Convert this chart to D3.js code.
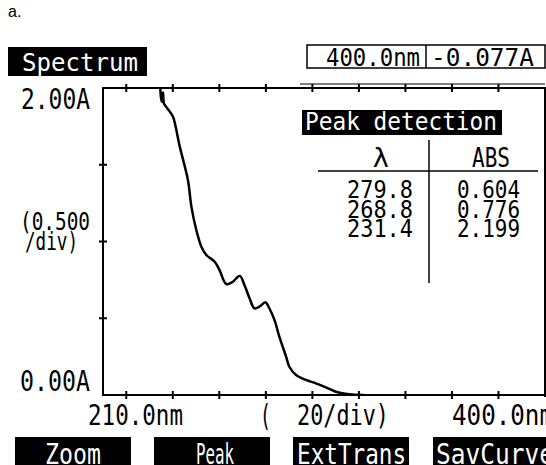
<!DOCTYPE html>
<html>
<head>
<meta charset="utf-8">
<script src="https://cdn.jsdelivr.net/npm/d3@7"></script>
<style>
  body { margin: 0; background: #fff; }
  svg { display: block; }
  text { font-family: "DejaVu Sans Mono", monospace; }
</style>
</head>
<body>
<div id="chart"></div>
<script>
// spectrum (nm, A)
var wavelengths = [234.6, 234.9, 235.3, 235.8, 236.2, 237.0, 238.7, 240.1, 243.0, 246.5, 248.0, 250.1,
                   252.3, 254.4, 258.0, 260.1, 263.0, 265.8, 268.8, 270.8, 273.0, 275.1, 277.2, 279.8,
                   281.5, 283.7, 285.8, 288.7, 290.1, 293.0, 297.2, 301.5, 305.8, 310.1, 312.9, 317.2, 322.0];
var absorbance = [2.02, 1.94, 1.91, 1.97, 1.90, 1.88, 1.846, 1.813, 1.618, 1.401, 1.227, 1.075,
                  0.966, 0.912, 0.868, 0.814, 0.723, 0.738, 0.776, 0.717, 0.630, 0.565, 0.575, 0.604,
                  0.565, 0.489, 0.380, 0.250, 0.184, 0.130, 0.098, 0.076, 0.050, 0.021, 0.011, 0.003, 0.0];

var peak_lambda = ["279.8", "268.8", "231.4"];
var peak_abs = ["0.604", "0.776", "2.199"];
var x_ticks = [220, 240, 260, 280, 300, 320, 340, 360, 380];
var y_ticks = [0.5, 1.0, 1.5];
var buttons = ["Zoom", "Peak", "ExtTrans", "SavCurve"];

var width = 546, height = 465;

var svg = d3.select("#chart").append("svg")
    .attr("width", width)
    .attr("height", height);

var x = d3.scaleLinear().domain([210, 400]).range([103, 545]);
var y = d3.scaleLinear().domain([0, 2]).range([395, 88]);

// text squeezed into a given width, like the instrument font
function label(str, x0, base, w, size, fill) {
    return svg.append("text")
	.attr("x", x0)
	.attr("y", base)
	.attr("textLength", w)
	.attr("lengthAdjust", "spacingAndGlyphs")
	.style("font-size", size + "px")
	.style("fill", fill || "black")
	.text(str);
}

svg.append("text")
    .attr("x", 8).attr("y", 17)
    .style("font-family", "'Liberation Sans', Arial, sans-serif")
    .style("font-size", "16px")
    .text("a.");

// header boxes
svg.append("rect").attr("x", 8).attr("y", 47).attr("width", 139).attr("height", 29).attr("fill", "black");
label("Spectrum", 22, 71, 116, 25, "white");

svg.append("rect").attr("x", 307).attr("y", 45).attr("width", 238).attr("height", 23)
    .attr("fill", "none").attr("stroke", "black").attr("stroke-width", 1.5);
svg.append("line").attr("x1", 426).attr("x2", 426).attr("y1", 45).attr("y2", 68)
    .attr("stroke", "black").attr("stroke-width", 1.5);
label("400.0nm", 326, 66, 94, 25);
label("-0.077A", 431, 66, 103, 25);

// plot frame
var frame = svg.append("g").attr("stroke", "black").attr("fill", "none");
frame.append("line").attr("x1", 103).attr("x2", 545).attr("y1", 88).attr("y2", 88).attr("stroke-width", 2);
frame.append("line").attr("x1", 300).attr("x2", 545).attr("y1", 84).attr("y2", 84).attr("stroke-width", 1);
frame.append("line").attr("x1", 103).attr("x2", 545).attr("y1", 395).attr("y2", 395).attr("stroke-width", 2);
frame.append("line").attr("x1", 103).attr("x2", 103).attr("y1", 87).attr("y2", 396).attr("stroke-width", 2);
frame.append("line").attr("x1", 545).attr("x2", 545).attr("y1", 87).attr("y2", 397).attr("stroke-width", 2);

frame.selectAll(".xt").data(x_ticks).enter().append("line")
    .attr("x1", d => x(d)).attr("x2", d => x(d))
    .attr("y1", 84).attr("y2", 92).attr("stroke-width", 2);
frame.selectAll(".xb").data(x_ticks).enter().append("line")
    .attr("x1", d => x(d)).attr("x2", d => x(d))
    .attr("y1", 391).attr("y2", 399).attr("stroke-width", 2);
frame.selectAll(".yl").data(y_ticks).enter().append("line")
    .attr("x1", 99).attr("x2", 107)
    .attr("y1", d => y(d)).attr("y2", d => y(d)).attr("stroke-width", 2);

// axis labels
label("2.00A", 21, 109, 69, 28);
label("(0.500", 20, 230, 70, 25);
label("/div)", 25, 250, 53, 25);
label("0.00A", 20, 391, 70, 28);
label("210.0nm", 88, 425, 95, 28);
label("(", 260, 426, 11, 30);
label("20/div)", 297, 425, 92, 28);
label("400.0nm", 452, 425, 102, 28);

// spectrum curve
svg.append("clipPath").attr("id", "plotclip")
    .append("rect").attr("x", 103).attr("y", 88).attr("width", 442).attr("height", 307);

var pts = wavelengths.map((w, i) => [w, absorbance[i]]);
var line = d3.line()
    .x(d => x(d[0]))
    .y(d => y(d[1]))
    .curve(d3.curveCatmullRom.alpha(0.5));

svg.append("path")
    .attr("clip-path", "url(#plotclip)")
    .attr("d", line(pts))
    .attr("fill", "none")
    .attr("stroke", "black")
    .attr("stroke-width", 2.5)
    .attr("stroke-linejoin", "round");

// peak detection table
svg.append("rect").attr("x", 302).attr("y", 110).attr("width", 200).attr("height", 25).attr("fill", "black");
label("Peak detection", 305, 130, 192, 25, "white");
svg.append("text").attr("x", 381).attr("y", 167).attr("text-anchor", "middle")
    .style("font-size", "27px").text("λ");
label("ABS", 472, 167, 38, 26);
svg.append("line").attr("x1", 318).attr("x2", 538).attr("y1", 171).attr("y2", 171)
    .attr("stroke", "black").attr("stroke-width", 1.5);
svg.append("line").attr("x1", 429).attr("x2", 429).attr("y1", 140).attr("y2", 283)
    .attr("stroke", "black").attr("stroke-width", 1.5);

peak_lambda.forEach(function(v, i) {
    label(v, 347, 198 + i * 19.5, 66, 24);
    label(peak_abs[i], 457, 198 + i * 19.5, 63, 24);
});

// soft keys along the bottom
var key_x = [15, 154, 293, 433];
var key_text = [[45, 56], [196, 38], [297, 109], [436, 118]];
buttons.forEach(function(b, i) {
    svg.append("rect").attr("x", key_x[i]).attr("y", 437).attr("width", 116).attr("height", 33).attr("fill", "black");
    label(b, key_text[i][0], 464, key_text[i][1], 28, "white");
});
</script>
</body>
</html>
